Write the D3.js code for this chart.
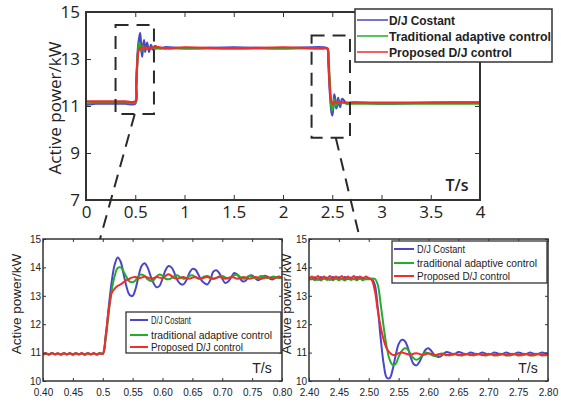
<!DOCTYPE html>
<html><head><meta charset="utf-8">
<script src="https://cdn.jsdelivr.net/npm/d3@7"></script>
<style>body{margin:0;background:#fff}svg{display:block}text{font-family:"Liberation Sans",Arial,sans-serif;fill:#222}</style>
</head><body><svg id="c" width="561" height="404"></svg>
<script>
// ---------- data ----------
const seriesNames = ["D/J Costant", "Traditional adaptive control", "Proposed D/J control"];
const zoomSeriesNames = ["D/J Costant", "traditional adaptive control", "Proposed D/J control"];
const seriesColors = ["#4b46c6", "#22ad2c", "#f22b2b"];

const mainTicksX = [0, 0.5, 1, 1.5, 2, 2.5, 3, 3.5, 4];
const mainTickLabelsX = ["0", "0.5", "1", "1.5", "2", "2.5", "3", "3.5", "4"];
const mainTicksY = [7, 9, 11, 13, 15];

const mainTime = [0,0.1,0.2,0.3,0.4, 0.5,0.51,0.52,0.53,0.54, 0.55,0.56,0.57,0.58,0.59, 0.6,0.62,0.64,0.66,0.68, 0.7,0.75,0.8,1.0,1.5, 2.0,2.4,2.45,2.46,2.47, 2.48,2.49,2.5,2.51,2.52, 2.53,2.54,2.55,2.56,2.58, 2.6,2.65,2.7,3.0,3.5, 4.0];
const mainBlue = [11.05,11.1,11.1,11.1,11.1, 11.1,11.9,12.9,13.6,13.9, 14.1,13.5,13.1,13.6,13.8, 13.3,13.7,13.3,13.6,13.4, 13.55,13.45,13.5,13.45,13.5, 13.45,13.5,13.45,12.9,12.0, 11.3,10.8,10.6,10.9,11.5, 11.3,10.9,11.0,11.35,10.95, 11.3,11.1,11.15,11.1,11.15, 11.15];
const mainGreen = [11.1,11.15,11.15,11.15,11.15, 11.15,11.8,12.8,13.4,13.7, 13.6,13.35,13.45,13.55,13.4, 13.5,13.45,13.5,13.45,13.5, 13.45,13.45,13.45,13.45,13.45, 13.45,13.45,13.45,13.2,12.4, 11.6,11.0,10.8,11.0,11.3, 11.1,11.0,11.1,11.2,11.1, 11.15,11.1,11.1,11.1,11.1, 11.1];
const mainRed = [11.2,11.2,11.2,11.2,11.2, 11.2,11.9,12.8,13.3,13.4, 13.45,13.5,13.45,13.5,13.45, 13.5,13.45,13.5,13.45,13.5, 13.5,13.5,13.45,13.5,13.45, 13.5,13.45,13.45,13.0,12.2, 11.5,11.2,11.1,11.1,11.15, 11.2,11.15,11.15,11.15,11.15, 11.15,11.15,11.15,11.15,11.15, 11.15];

const leftTicksX = [0.40,0.45,0.50,0.55,0.60,0.65,0.70,0.75,0.80];
const leftTickLabelsX = ["0.40","0.45","0.5","0.55","0.60","0.65","0.70","0.75","0.80"];
const rightTicksX = [2.40,2.45,2.50,2.55,2.60,2.65,2.70,2.75,2.80];
const rightTickLabelsX = ["2.40","2.45","2.50","2.55","2.60","2.65","2.70","2.75","2.80"];
const zoomTicksY = [10, 11, 12, 13, 14, 15];
const zoomTickLabelsY = ["10", "11", "12", "13", "14", "15"];

const leftTime = [0.400,0.405,0.410,0.415,0.420,0.425,0.430,0.435,0.440,0.445,0.450,0.455,0.460,0.465,0.470,0.475,0.480,0.485,0.490,0.495,0.500,
 0.505,0.510,0.515,0.520,0.525,0.530,0.535,0.540,0.545,0.550,0.555,0.560,0.565,0.570,0.575,0.580,0.585,0.590,0.595,0.600,
 0.605,0.610,0.615,0.620,0.625,0.630,0.635,0.640,0.645,0.650,0.655,0.660,0.665,0.670,0.675,0.680,0.685,0.690,0.695,0.700,
 0.705,0.710,0.715,0.720,0.725,0.730,0.735,0.740,0.745,0.750,0.755,0.760,0.765,0.770,0.775,0.780,0.785,0.790,0.795,0.800];
const leftBlue = [10.95,10.97,10.94,10.98,10.95,10.97,10.94,10.98,10.95,10.97,10.94,10.98,10.95,10.97,10.94,10.98,10.95,10.97,10.94,10.98,10.96,
 11.6,12.6,13.5,14.1,14.35,14.2,13.75,13.3,13.03,13.0,13.25,13.7,14.05,14.15,14.0,13.7,13.45,13.3,13.35,13.6,
 13.9,14.05,14.0,13.8,13.55,13.42,13.4,13.55,13.8,13.95,13.92,13.75,13.55,13.45,13.4,13.55,13.85,13.9,13.8,13.6,
 13.45,13.5,13.65,13.8,13.75,13.6,13.5,13.55,13.7,13.72,13.62,13.55,13.6,13.7,13.68,13.6,13.58,13.65,13.68,13.62];
const leftGreen = [10.94,10.97,10.93,10.98,10.94,10.97,10.93,10.98,10.94,10.97,10.93,10.98,10.94,10.97,10.93,10.98,10.94,10.97,10.93,10.98,10.95,
 11.5,12.4,13.2,13.7,13.98,14.0,13.85,13.65,13.5,13.48,13.55,13.7,13.75,13.7,13.58,13.52,13.55,13.68,13.75,13.7,
 13.6,13.58,13.62,13.7,13.72,13.65,13.6,13.62,13.7,13.72,13.66,13.6,13.62,13.68,13.7,13.65,13.6,13.63,13.68,13.7,
 13.65,13.62,13.66,13.72,13.75,13.66,13.6,13.64,13.7,13.68,13.62,13.64,13.7,13.68,13.62,13.64,13.68,13.66,13.62,13.65];
const leftRed = [10.92,10.98,10.93,10.99,10.93,10.98,10.92,10.98,10.93,10.99,10.92,10.98,10.93,10.99,10.92,10.98,10.93,10.99,10.93,10.98,10.95,
 11.6,12.5,13.1,13.25,13.35,13.4,13.48,13.55,13.6,13.65,13.66,13.62,13.64,13.68,13.65,13.6,13.62,13.66,13.64,13.62,
 13.7,13.76,13.7,13.62,13.6,13.64,13.66,13.62,13.6,13.64,13.66,13.62,13.6,13.64,13.66,13.62,13.6,13.63,13.66,13.64,
 13.6,13.62,13.66,13.64,13.6,13.62,13.66,13.64,13.6,13.62,13.66,13.64,13.6,13.62,13.66,13.64,13.62,13.64,13.66,13.64];

const rightTime = [2.400,2.405,2.410,2.415,2.420,2.425,2.430,2.435,2.440,2.445,2.450,2.455,2.460,2.465,2.470,2.475,2.480,2.485,2.490,2.495,2.500,
 2.505,2.510,2.515,2.520,2.525,2.530,2.535,2.540,2.545,2.550,2.555,2.560,2.565,2.570,2.575,2.580,2.585,2.590,2.595,2.600,
 2.605,2.610,2.615,2.620,2.625,2.630,2.635,2.640,2.645,2.650,2.655,2.660,2.665,2.670,2.675,2.680,2.685,2.690,2.695,2.700,
 2.705,2.710,2.715,2.720,2.725,2.730,2.735,2.740,2.745,2.750,2.755,2.760,2.765,2.770,2.775,2.780,2.785,2.790,2.795,2.800];
const rightBlue = [13.62,13.58,13.65,13.56,13.66,13.6,13.64,13.56,13.66,13.6,13.65,13.58,13.66,13.58,13.64,13.58,13.66,13.6,13.64,13.58,13.6,
 13.6,13.4,12.6,11.5,10.6,10.12,10.1,10.4,10.9,11.3,11.45,11.42,11.2,10.85,10.6,10.55,10.68,10.9,11.1,11.15,
 11.05,10.92,10.85,10.86,10.95,11.02,11.0,10.94,10.96,11.02,11.0,10.94,10.95,11.0,10.98,10.94,10.96,11.0,10.97,10.93,
 10.95,11.0,10.98,10.94,10.96,11.0,10.97,10.93,10.96,11.0,10.98,10.94,10.96,11.0,10.97,10.94,10.96,11.0,10.98,10.96];
const rightGreen = [13.55,13.62,13.55,13.6,13.54,13.62,13.56,13.6,13.55,13.62,13.55,13.6,13.54,13.62,13.56,13.6,13.55,13.62,13.55,13.6,13.58,
 13.6,13.6,13.4,12.7,11.9,11.2,10.75,10.57,10.6,10.85,11.05,11.15,11.12,10.95,10.8,10.75,10.8,10.92,11.0,10.98,
 10.92,10.88,10.9,10.95,10.97,10.93,10.9,10.92,10.95,10.93,10.9,10.92,10.96,10.94,10.9,10.92,10.95,10.93,10.9,10.92,
 10.96,10.94,10.9,10.92,10.95,10.93,10.9,10.92,10.96,10.94,10.9,10.92,10.95,10.93,10.9,10.92,10.96,10.94,10.9,10.93];
const rightRed = [13.6,13.68,13.58,13.7,13.57,13.68,13.6,13.7,13.58,13.68,13.6,13.7,13.57,13.68,13.6,13.7,13.58,13.68,13.6,13.68,13.62,
 13.55,13.2,12.5,11.9,11.45,11.15,11.0,10.92,10.92,10.98,11.0,10.98,10.94,10.93,10.96,10.98,10.95,10.92,10.94,10.97,
 10.96,10.92,10.93,10.96,10.95,10.91,10.93,10.96,10.95,10.91,10.93,10.96,10.94,10.91,10.93,10.96,10.94,10.91,10.93,10.96,
 10.94,10.9,10.93,10.96,10.94,10.9,10.93,10.96,10.94,10.9,10.93,10.96,10.94,10.9,10.93,10.96,10.94,10.9,10.93,10.95];

// zoom boxes in main-plot data coordinates [t0, t1, v0, v1]
const zoomBox1 = [0.30, 0.69, 10.66, 14.45];
const zoomBox2 = [2.29, 2.68, 9.65, 14.0];

// ---------- drawing ----------
const svg = d3.select("#c");
let clipId = 0;

function panel(o) {
  const g = svg.append("g");
  const x = d3.scaleLinear().domain(o.xd).range([o.x0, o.x1]);
  const y = d3.scaleLinear().domain(o.yd).range([o.y1, o.y0]);
  const id = "clip" + (clipId++);
  svg.append("clipPath").attr("id", id).append("rect")
    .attr("x", o.x0).attr("y", o.y0).attr("width", o.x1 - o.x0).attr("height", o.y1 - o.y0);
  const lines = g.append("g").attr("clip-path", `url(#${id})`);
  o.series.forEach((vals, i) => {
    const pts = o.time.map((t, k) => [t, vals[k]]);
    lines.append("path").attr("d", d3.line().x(d => x(d[0])).y(d => y(d[1])).curve(d3.curveCatmullRom)(pts))
      .attr("fill", "none").attr("stroke", seriesColors[i]).attr("stroke-width", o.lw).attr("stroke-linejoin", "round");
  });
  const ts = o.tick;
  const ax = g.append("g").attr("transform", `translate(0,${o.y1})`)
    .call(d3.axisBottom(x).tickValues(o.xt).tickFormat((d, i) => o.xl[i]).tickSizeInner(-ts).tickSizeOuter(0).tickPadding(o.xpad));
  const axT = g.append("g").attr("transform", `translate(0,${o.y0})`)
    .call(d3.axisTop(x).tickValues(o.xt).tickFormat("").tickSizeInner(-ts).tickSizeOuter(0));
  const ay = g.append("g").attr("transform", `translate(${o.x0},0)`)
    .call(d3.axisLeft(y).tickValues(o.yt).tickFormat((d, i) => o.yl[i]).tickSizeInner(-ts).tickSizeOuter(0).tickPadding(o.ypad));
  const ayR = g.append("g").attr("transform", `translate(${o.x1},0)`)
    .call(d3.axisRight(y).tickValues(o.yt).tickFormat("").tickSizeInner(-ts).tickSizeOuter(0));
  [ax, axT, ay, ayR].forEach(a => { a.select(".domain").remove(); a.selectAll("line").attr("stroke", "#333").attr("stroke-width", 1); });
  [ax, ay].forEach(a => a.selectAll("text").attr("font-size", o.fs).attr("fill", "#222")
      .style("font-family", o.ff).style("font-weight", o.fw));
  g.append("rect").attr("x", o.x0).attr("y", o.y0).attr("width", o.x1 - o.x0).attr("height", o.y1 - o.y0)
    .attr("fill", "none").attr("stroke", "#333").attr("stroke-width", o.bw);
  return { g, x, y };
}

// main panel
const M = panel({ xd: [0, 4], yd: [7, 15], x0: 86, x1: 480, y0: 12, y1: 200,
  time: mainTime, series: [mainBlue, mainGreen, mainRed], lw: 2.2,
  xt: mainTicksX, xl: mainTickLabelsX, yt: mainTicksY, yl: mainTicksY.map(String), tick: 5, xpad: 6, ypad: 6,
  fs: 17, ff: "'Open Sans',sans-serif", fw: 500, bw: 2 });

// main axis titles
svg.append("text").attr("transform", "translate(61,108) rotate(-90)").attr("text-anchor", "middle")
  .attr("font-size", 17).style("font-family", "'Open Sans',sans-serif").text("Active power/kW");
svg.append("text").attr("x", 457).attr("y", 191).attr("text-anchor", "middle")
  .attr("font-size", 16).style("font-family", "'Open Sans',sans-serif").style("font-weight", 600).text("T/s");

// zoom boxes
function zoomBox(b) {
  const x0 = M.x(b[0]), x1 = M.x(b[1]), y0 = M.y(b[3]), y1 = M.y(b[2]);
  svg.append("rect").attr("x", x0).attr("y", y0).attr("width", x1 - x0).attr("height", y1 - y0)
    .attr("fill", "none").attr("stroke", "#2a2a2a").attr("stroke-width", 2).attr("stroke-dasharray", "13,8");
  return { x0, x1, y0, y1 };
}
const b1 = zoomBox(zoomBox1), b2 = zoomBox(zoomBox2);

// main legend
const lg = svg.append("g");
lg.append("rect").attr("x", 355).attr("y", 9).attr("width", 197).attr("height", 53)
  .attr("fill", "#fff").attr("stroke", "#333").attr("stroke-width", 1.5);
const mainLegendY = [20, 36, 52];
const mainLegendW = [66, 162, 123];
seriesNames.forEach((n, i) => {
  lg.append("line").attr("x1", 357).attr("x2", 388).attr("y1", mainLegendY[i]).attr("y2", mainLegendY[i])
    .attr("stroke", seriesColors[i]).attr("stroke-width", 1.5);
  lg.append("text").attr("x", 389).attr("y", mainLegendY[i] + 5).attr("font-size", 13).style("font-weight", 700)
    .attr("textLength", mainLegendW[i]).attr("lengthAdjust", "spacingAndGlyphs").text(n);
});

// zoom panels
const L = panel({ xd: [0.40, 0.80], yd: [10, 15], x0: 43, x1: 282, y0: 239, y1: 381,
  time: leftTime, series: [leftBlue, leftGreen, leftRed], lw: 2,
  xt: leftTicksX, xl: leftTickLabelsX, yt: zoomTicksY, yl: zoomTickLabelsY, tick: 3, xpad: 8, ypad: 2,
  fs: 10, ff: "'Liberation Sans',sans-serif", fw: 400, bw: 1.5 });
const R = panel({ xd: [2.40, 2.80], yd: [10, 15], x0: 309, x1: 548, y0: 239, y1: 381,
  time: rightTime, series: [rightBlue, rightGreen, rightRed], lw: 2,
  xt: rightTicksX, xl: rightTickLabelsX, yt: zoomTicksY, yl: zoomTickLabelsY, tick: 3, xpad: 8, ypad: 2,
  fs: 10, ff: "'Liberation Sans',sans-serif", fw: 400, bw: 1.5 });

// connectors
svg.append("line").attr("x1", (b1.x0 + b1.x1) / 2).attr("y1", b1.y1).attr("x2", 100).attr("y2", 239)
  .attr("stroke", "#2a2a2a").attr("stroke-width", 2).attr("stroke-dasharray", "13,8");
svg.append("line").attr("x1", (b2.x0 + b2.x1) / 2 + 5).attr("y1", b2.y1).attr("x2", 360).attr("y2", 239)
  .attr("stroke", "#2a2a2a").attr("stroke-width", 2).attr("stroke-dasharray", "13,8");

// zoom axis titles
[[21, 304], [291, 304]].forEach(p => {
  svg.append("text").attr("transform", `translate(${p[0]},${p[1]}) rotate(-90)`).attr("text-anchor", "middle")
    .attr("font-size", 13.5).text("Active power/kW");
});
[[262, L], [528, R]].forEach(p => {
  svg.append("text").attr("x", p[0]).attr("y", 373).attr("text-anchor", "middle")
    .attr("font-size", 14).text("T/s");
});

// zoom legends
function zoomLegend(x, y, w, h, rows, lineX0, lineX1, textX, widths) {
  const g = svg.append("g");
  g.append("rect").attr("x", x).attr("y", y).attr("width", w).attr("height", h)
    .attr("fill", "#fff").attr("stroke", "#333").attr("stroke-width", 1.3);
  zoomSeriesNames.forEach((n, i) => {
    g.append("line").attr("x1", lineX0).attr("x2", lineX1).attr("y1", rows[i]).attr("y2", rows[i])
      .attr("stroke", seriesColors[i]).attr("stroke-width", 2);
    g.append("text").attr("x", textX).attr("y", rows[i] + 4).attr("font-size", 11)
      .attr("textLength", widths[i]).attr("lengthAdjust", "spacingAndGlyphs").text(n);
  });
}
zoomLegend(126, 312, 155, 41, [320, 335, 347], 130, 148, 151, [40, 121, 92]);
zoomLegend(392, 241, 155, 42, [249, 263, 276], 394, 414, 417, [48, 120, 93]);
</script></body></html>
